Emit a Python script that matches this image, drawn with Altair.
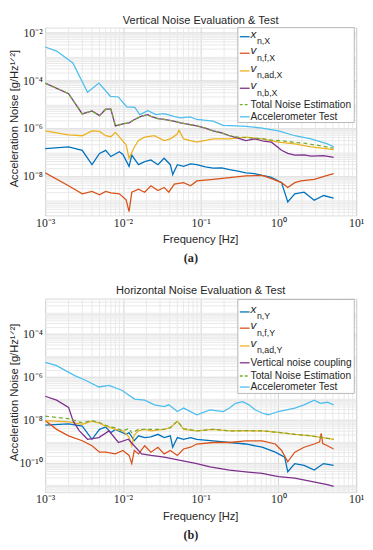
import math
import altair as alt
import pandas as pd

# ---------------- data: values (log10 of Hz, log10 of g/Hz^1/2) ----------------
# Panel (a) Vertical
A_XN_LOGF = [-3.0, -2.699, -2.523, -2.398, -2.301, -2.222, -2.155, -2.046, -2.0, -1.921, -1.886, -1.80, -1.72, -1.64, -1.55, -1.47, -1.39, -1.36, -1.30, -1.22, -1.13, -1.05, -0.94, -0.84, -0.73, -0.63, -0.52, -0.42, -0.31, -0.21, -0.10, -0.04, 0.04, 0.12, 0.21, 0.33, 0.46, 0.58, 0.71]
A_XN_LOGV = [-6.86, -6.79, -6.93, -7.53, -7.06, -6.93, -7.19, -6.99, -7.10, -7.60, -7.13, -7.53, -7.40, -7.33, -7.53, -7.26, -7.53, -7.94, -7.53, -7.60, -7.50, -7.53, -7.62, -7.67, -7.66, -7.74, -7.80, -7.87, -7.90, -7.98, -8.05, -8.14, -8.28, -9.09, -8.75, -8.68, -9.02, -8.82, -8.93]

A_FN_LOGF = [-3.0, -2.699, -2.523, -2.398, -2.301, -2.222, -2.155, -2.046, -1.959, -1.921, -1.886, -1.80, -1.72, -1.64, -1.55, -1.47, -1.41, -1.34, -1.22, -1.13, -1.05, -0.84, -0.63, -0.42, -0.21, -0.09, 0.04, 0.12, 0.21, 0.29, 0.46, 0.63, 0.71]
A_FN_LOGV = [-7.87, -8.41, -8.75, -8.65, -8.79, -8.65, -8.71, -8.75, -9.00, -9.49, -8.68, -8.55, -8.68, -8.41, -8.61, -8.48, -8.68, -8.34, -8.28, -8.41, -8.21, -8.14, -8.07, -8.00, -7.98, -8.11, -8.28, -8.48, -8.28, -8.21, -8.14, -7.98, -7.90]

A_AD_LOGF = [-3.0, -2.699, -2.523, -2.398, -2.301, -2.222, -2.155, -2.097, -2.046, -1.959, -1.921, -1.854, -1.80, -1.72, -1.595, -1.47, -1.39, -1.30, -1.28, -1.22, -1.05, -0.84, -0.63, -0.42, -0.21, 0.0, 0.21, 0.42, 0.71]
A_AD_LOGV = [-6.12, -6.28, -6.32, -6.12, -6.14, -6.32, -6.36, -6.18, -6.37, -6.70, -7.26, -6.80, -6.52, -6.38, -6.32, -6.52, -6.45, -6.25, -6.09, -6.45, -6.59, -6.45, -6.45, -6.38, -6.45, -6.59, -6.66, -6.79, -6.90]

A_BN_LOGF = [-3.0, -2.699, -2.523, -2.398, -2.301, -2.222, -2.155, -2.097, -2.0, -1.921, -1.85, -1.76, -1.68, -1.64, -1.55, -1.47, -1.36, -1.26, -1.15, -1.05, -0.94, -0.84, -0.73, -0.63, -0.52, -0.42, -0.30, -0.19, -0.09, 0.04, 0.12, 0.21, 0.33, 0.42, 0.58, 0.71]
A_BN_LOGV = [-4.12, -4.56, -5.41, -5.28, -5.48, -5.21, -5.21, -5.91, -5.82, -5.78, -5.64, -5.50, -5.44, -5.51, -5.60, -5.64, -5.70, -5.78, -5.85, -5.91, -6.00, -6.12, -6.20, -6.32, -6.42, -6.52, -6.45, -6.55, -6.59, -6.93, -7.06, -7.13, -7.12, -7.17, -7.15, -7.22]

A_TOT_LOGF = [-3.0, -2.699, -2.523, -2.398, -2.301, -2.222, -2.155, -2.097, -2.0, -1.921, -1.85, -1.76, -1.68, -1.64, -1.55, -1.47, -1.36, -1.26, -1.15, -1.05, -0.94, -0.84, -0.73, -0.63, -0.52, -0.42, -0.30, -0.19, -0.09, 0.0, 0.12, 0.21, 0.33, 0.42, 0.58, 0.71]
A_TOT_LOGV = [-4.12, -4.56, -5.41, -5.28, -5.48, -5.21, -5.21, -5.91, -5.82, -5.78, -5.64, -5.50, -5.44, -5.51, -5.60, -5.64, -5.70, -5.78, -5.85, -5.91, -6.00, -6.12, -6.20, -6.32, -6.38, -6.40, -6.42, -6.45, -6.50, -6.52, -6.56, -6.60, -6.63, -6.68, -6.76, -6.84]

A_ACC_LOGF = [-3.0, -2.853, -2.644, -2.455, -2.308, -2.161, -2.057, -1.952, -1.847, -1.784, -1.679, -1.575, -1.469, -1.343, -1.26, -1.135, -1.05, -0.84, -0.714, -0.547, -0.42, -0.21, 0.0, 0.21, 0.42, 0.63, 0.71]
A_ACC_LOGV = [-2.61, -2.78, -3.28, -4.50, -4.12, -4.67, -4.70, -5.11, -5.13, -5.44, -5.27, -5.44, -5.40, -5.51, -5.57, -5.53, -5.64, -5.71, -5.89, -5.91, -5.93, -6.00, -6.12, -6.32, -6.45, -6.66, -6.78]

# Panel (b) Horizontal
B_XN_LOGF = [-3.0, -2.699, -2.523, -2.398, -2.301, -2.222, -2.155, -2.097, -1.959, -1.921, -1.854, -1.80, -1.72, -1.64, -1.55, -1.47, -1.39, -1.36, -1.30, -1.22, -1.13, -1.05, -0.84, -0.63, -0.42, -0.21, -0.04, 0.08, 0.12, 0.21, 0.33, 0.46, 0.58, 0.71]
B_XN_LOGV = [-8.24, -8.18, -8.29, -8.90, -8.44, -8.33, -8.59, -8.44, -8.67, -8.59, -8.97, -8.74, -8.82, -8.79, -8.67, -8.82, -8.74, -9.27, -8.82, -8.90, -8.82, -8.90, -8.97, -9.05, -9.12, -9.27, -9.50, -9.73, -10.41, -10.03, -10.11, -10.33, -10.03, -10.11]

B_FN_LOGF = [-3.0, -2.853, -2.699, -2.523, -2.398, -2.301, -2.222, -2.097, -2.0, -1.921, -1.886, -1.854, -1.80, -1.72, -1.64, -1.55, -1.47, -1.39, -1.30, -1.22, -1.13, -1.05, -0.84, -0.63, -0.42, -0.21, -0.04, 0.04, 0.12, 0.21, 0.33, 0.46, 0.53, 0.55, 0.57, 0.63, 0.71]
B_FN_LOGV = [-8.03, -8.44, -8.74, -8.97, -9.20, -9.50, -9.50, -9.58, -9.42, -9.65, -10.03, -9.42, -9.58, -9.20, -9.50, -9.27, -9.58, -9.42, -9.65, -9.35, -9.27, -9.12, -9.05, -9.05, -8.97, -8.97, -9.12, -9.42, -9.95, -9.50, -9.27, -9.12, -9.02, -8.62, -9.10, -9.20, -9.35]

B_AD_LOGF = [-3.0, -2.699, -2.523, -2.398, -2.301, -2.222, -2.155, -2.097, -2.0, -1.921, -1.886, -1.854, -1.80, -1.72, -1.64, -1.47, -1.39, -1.30, -1.22, -1.05, -0.84, -0.63, -0.42, -0.21, 0.0, 0.21, 0.42, 0.71]
B_AD_LOGV = [-8.03, -8.09, -8.21, -8.06, -8.15, -8.29, -8.36, -8.44, -8.51, -8.80, -9.20, -8.70, -8.51, -8.44, -8.51, -8.44, -8.36, -8.06, -8.44, -8.51, -8.44, -8.51, -8.50, -8.51, -8.58, -8.67, -8.74, -8.90]

B_VC_LOGF = [-3.0, -2.853, -2.699, -2.64, -2.56, -2.455, -2.31, -2.18, -2.057, -1.93, -1.76, -1.64, -1.47, -1.26, -1.05, -0.88, -0.63, -0.42, -0.21, 0.0, 0.21, 0.42, 0.63, 0.71]
B_VC_LOGV = [-6.90, -7.08, -7.42, -8.06, -8.51, -8.90, -8.82, -8.51, -9.05, -8.90, -9.58, -9.65, -9.73, -9.88, -10.03, -10.18, -10.33, -10.41, -10.49, -10.64, -10.71, -10.86, -11.01, -11.09]

B_TOT_LOGF = [-3.0, -2.699, -2.523, -2.398, -2.301, -2.222, -2.155, -2.097, -2.0, -1.921, -1.886, -1.854, -1.80, -1.72, -1.64, -1.47, -1.39, -1.30, -1.22, -1.05, -0.84, -0.63, -0.42, -0.21, 0.0, 0.21, 0.42, 0.71]
B_TOT_LOGV = [-7.83, -7.94, -8.14, -8.03, -8.12, -8.25, -8.33, -8.36, -8.51, -8.40, -8.60, -8.55, -8.44, -8.44, -8.44, -8.44, -8.36, -8.06, -8.40, -8.51, -8.44, -8.51, -8.50, -8.51, -8.58, -8.67, -8.74, -8.90]

B_ACC_LOGF = [-3.0, -2.853, -2.62, -2.475, -2.31, -2.18, -2.015, -1.85, -1.72, -1.595, -1.47, -1.41, -1.30, -1.22, -1.05, -0.88, -0.71, -0.63, -0.55, -0.46, -0.38, -0.30, -0.21, -0.13, 0.0, 0.21, 0.33, 0.46, 0.54, 0.63, 0.71]
B_ACC_LOGV = [-5.33, -5.48, -5.94, -6.17, -6.47, -6.40, -6.62, -7.03, -7.08, -7.30, -7.38, -7.30, -7.61, -7.45, -7.76, -7.53, -7.61, -7.45, -7.23, -7.15, -7.30, -7.53, -7.68, -7.76, -7.61, -7.45, -7.30, -7.08, -7.23, -7.18, -7.30]

X_TICK_EXP = [-3, -2, -1, 0, 1]
A_Y_TICK_EXP = [-2, -4, -6, -8]
B_Y_TICK_EXP = [-4, -6, -8, -10]

TITLE_A = "Vertical Noise Evaluation & Test"
TITLE_B = "Horizontal Noise Evaluation & Test"
X_TITLE = "Frequency [Hz]"
Y_TITLE = "Acceleration Noise [g/Hz\u00b9\u141f\u00b2]"

# ---------------- styling ----------------
BLUE, RED, YELLOW, PURPLE, GREEN, CYAN = "#0072BD", "#D95319", "#EDB120", "#7E2F8E", "#77AC30", "#4DBEEE"
SANS = "Liberation Sans"
SERIF = "Liberation Serif"
TXT = "#262626"
W = 318
LW = 1.3


def df_of(logf, logv):
    return pd.DataFrame({"f": [10 ** a for a in logf], "v": [10 ** b for b in logv]})


def sup(e):
    return "10" + str(e).translate(str.maketrans("-0123456789", "\u207b\u2070\u00b9\u00b2\u00b3\u2074\u2075\u2076\u2077\u2078\u2079"))


def label_expr(exps):
    parts = [f"abs(log(datum.value)/LN10 - ({e})) < 0.01 ? '{sup(e)}'" for e in exps]
    return " : ".join(parts) + " : ''"


def text_layer(one, text, x, y, **kw):
    return alt.Chart(one).mark_text(text=text, color=TXT, **kw).encode(x=alt.value(x), y=alt.value(y))


def panel(series, ydom_exp, yticks, height, title, title_y, entries, rows_y, box, caption):
    xs = alt.Scale(type="log", domain=[1e-3, 10], nice=False)
    ys = alt.Scale(type="log", domain=[10 ** ydom_exp[0], 10 ** ydom_exp[1]], nice=False)
    common = dict(grid=True, gridColor="#d2d2d2", ticks=False, domain=False, labelFont=SERIF,
                  labelFontSize=12, labelColor=TXT, labelFlush=False, labelOverlap=False, title=None)
    xaxis = alt.Axis(values=[10.0 ** e for e in X_TICK_EXP], labelExpr=label_expr(X_TICK_EXP),
                     labelPadding=2, **common)
    yaxis = alt.Axis(values=[10.0 ** e for e in yticks], labelExpr=label_expr(yticks),
                     labelPadding=3, **common)
    lo, hi = ydom_exp
    minor_x = pd.DataFrame({"f": [k * 10.0 ** e for e in range(-3, 1) for k in range(2, 10)]})
    minor_y = pd.DataFrame({"v": [k * 10.0 ** e for e in range(-13, 0) for k in range(2, 10)
                                  if lo <= e + math.log10(k) <= hi]})
    layers = [
        alt.Chart(minor_x).mark_rule(color="#e8e8e8", strokeWidth=1).encode(x=alt.X("f:Q", scale=xs, axis=xaxis)),
        alt.Chart(minor_y).mark_rule(color="#e8e8e8", strokeWidth=1).encode(y=alt.Y("v:Q", scale=ys, axis=yaxis)),
    ]
    for (logf, logv, color, dash) in series:
        kw = dict(color=color, strokeWidth=LW, clip=True)
        if dash:
            kw["strokeDash"] = [4, 3]
        layers.append(alt.Chart(df_of(logf, logv)).mark_line(**kw).encode(
            x=alt.X("f:Q", scale=xs, axis=xaxis), y=alt.Y("v:Q", scale=ys, axis=yaxis)))
    one = pd.DataFrame({"k": [0]})
    # legend box
    layers.append(alt.Chart(one).mark_rect(fill="white", stroke="#a6a6a6", strokeWidth=0.8).encode(
        x=alt.value(box[0]), x2=alt.value(box[1]), y=alt.value(box[2]), y2=alt.value(box[3])))
    for (main, sub, color, dash), yy in zip(entries, rows_y):
        kw = dict(color=color, strokeWidth=LW)
        if dash:
            kw["strokeDash"] = [3, 2]
        layers.append(alt.Chart(one).mark_rule(**kw).encode(
            x=alt.value(box[0] + 2), x2=alt.value(box[0] + 12), y=alt.value(yy)))
        if sub:
            layers.append(text_layer(one, main, box[0] + 13, yy + 1, align="left", baseline="alphabetic",
                                     font=SANS, fontStyle="italic", fontSize=12))
            layers.append(text_layer(one, sub, box[0] + 19.5, yy + 7.5, align="left", baseline="alphabetic",
                                     font=SANS, fontSize=9))
        else:
            layers.append(text_layer(one, main, box[0] + 13, yy, align="left", baseline="middle",
                                     font=SANS, fontSize=10.4))
    # titles and caption as text
    layers.append(text_layer(one, title, W / 2, title_y, align="center", baseline="middle",
                             font=SANS, fontSize=11.3))
    layers.append(text_layer(one, X_TITLE, W / 2, height + 25.5, align="center", baseline="middle",
                             font=SANS, fontSize=11.4))
    layers.append(text_layer(one, Y_TITLE, -31, height / 2 - 3, align="center", baseline="middle",
                             font=SANS, fontSize=11.4, angle=270))
    layers.append(text_layer(one, caption, W / 2 - 10, height + 44, align="center", baseline="middle",
                             font=SERIF, fontWeight="bold", fontSize=12.5))
    return alt.layer(*layers).properties(width=W, height=height)


series_a = [
    (A_XN_LOGF, A_XN_LOGV, BLUE, False),
    (A_FN_LOGF, A_FN_LOGV, RED, False),
    (A_AD_LOGF, A_AD_LOGV, YELLOW, False),
    (A_BN_LOGF, A_BN_LOGV, PURPLE, False),
    (A_TOT_LOGF, A_TOT_LOGV, GREEN, True),
    (A_ACC_LOGF, A_ACC_LOGV, CYAN, False),
]
entries_a = [("x", "n,X", BLUE, False), ("v", "n,f,X", RED, False), ("v", "n,ad,X", YELLOW, False),
             ("v", "n,b,X", PURPLE, False), ("Total Noise Estimation", "", GREEN, True),
             ("Accelerometer Test", "", CYAN, False)]
series_b = [
    (B_XN_LOGF, B_XN_LOGV, BLUE, False),
    (B_FN_LOGF, B_FN_LOGV, RED, False),
    (B_AD_LOGF, B_AD_LOGV, YELLOW, False),
    (B_VC_LOGF, B_VC_LOGV, PURPLE, False),
    (B_TOT_LOGF, B_TOT_LOGV, GREEN, True),
    (B_ACC_LOGF, B_ACC_LOGV, CYAN, False),
]
entries_b = [("x", "n,Y", BLUE, False), ("v", "n,f,Y", RED, False), ("v", "n,ad,Y", YELLOW, False),
             ("Vertical noise coupling", "", PURPLE, False), ("Total Noise Estimation", "", GREEN, True),
             ("Accelerometer Test", "", CYAN, False)]

pa = panel(series_a, (-9.65, -1.8), A_Y_TICK_EXP, 192, TITLE_A, -7, entries_a,
           [9.3, 26.2, 44.3, 62, 78.7, 91.2], (197, 316, 0, 97), "(a)")
pb = panel(series_b, (-11.36, -2.36), B_Y_TICK_EXP, 198, TITLE_B, -8, entries_b,
           [13.7, 30.3, 48.5, 65.7, 79.2, 90.5], (197, 316, 1, 97), "(b)")

chart = alt.vconcat(pa, pb, spacing=85, bounds="flush").properties(
    padding={"left": 0, "top": 0, "right": 0, "bottom": 0}
).configure_view(stroke="#a6a6a6", strokeWidth=1).configure(background="white")

chart.save("out.html", embed_options={"renderer": "svg", "actions": False})
